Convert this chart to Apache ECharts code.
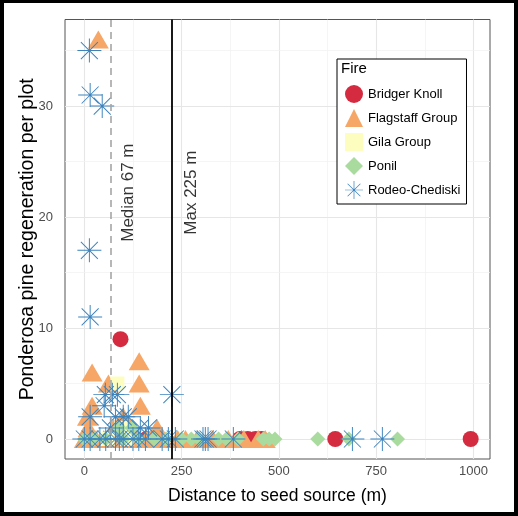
<!DOCTYPE html>
<html>
<head>
<meta charset="utf-8">
<script src="https://cdn.jsdelivr.net/npm/echarts@6/dist/echarts.min.js"></script>
<style>
html,body{margin:0;padding:0;background:#000;width:518px;height:516px;overflow:hidden;}
#c{position:absolute;left:4px;top:3px;width:510px;height:509px;background:#fff;}
</style>
</head>
<body>
<div id="c"></div>
<script>
// ---- data ----
const fireNames = ['Bridger Knoll','Flagstaff Group','Gila Group','Ponil','Rodeo-Chediski'];
const bridgerKnoll = [[93,9],[160,0],[400,0],[420,0],[440,0],[455,0],[645,0],[993,0]];
const flagstaffGroup = [[36,36],[20,6],[141,7],[141,5],[62,5],[144,3],[20,3],[8,2],[100,2],[187,1],[10,1],[75,1],[120,1],
  [0,0],[15,0],[30,0],[50,0],[70,0],[100,0],[130,0],[160,0],[200,0],[240,0],[260,0],[290,0],[330,0],[370,0],[410,0],[447,0],[465,0]];
const gilaGroup = [[85,5],[60,0],[110,0],[95,1]];
const ponil = [[0,0],[25,0],[55,0],[90,1],[100,0],[123,1],[140,0],[180,0],[210,0],[250,0],[275,0],[295,0],[345,0],[365,0],
  [395,0],[460,0],[475,0],[490,0],[600,0],[680,0],[805,0]];
const rodeoChediski = [[13,35],[15,31],[46,30],[13,17],[15,11],[225,4],[54,4],[72,4],[85,4],[51,3],[15,2],[80,2],[100,2],[113,2],
  [67,1],[144,1],[165,1],[0,0],[15,0],[40,0],[55,0],[80,0],[90,0],[100,0],[125,0],[140,0],[157,0],[200,0],[216,0],[234,0],
  [305,0],[311,0],[318,0],[383,0],[689,0],[766,0]];
const xTicks = [0,250,500,750,1000];
const xMinor = [125,375,625,875];
const yTicks = [0,10,20,30];
const yMinor = [5,15,25,35];
const medianDist = 67;
const maxDist = 225;
const annotations = [[113,22.2,'Median 67 m'],[275,22.2,'Max 225 m']];
const xRange = [-49.65, 1042.65];
const yRange = [-1.8, 37.8];

// ---- style ----
const colors = ['#d42b40','#f6a666','#fdfdbf','#a9db9f','#3b83bd'];
const asterisk = 'path://M0 48 L100 48 L100 52 L0 52 Z M48 0 L52 0 L52 100 L48 100 Z ' +
  'M16 13.2 L86.8 84 L84 86.8 L13.2 16 Z M13.2 84 L84 13.2 L86.8 16 L16 86.8 Z M45 45 L55 45 L55 55 L45 55 Z';
const symbols = ['circle','triangle','rect','diamond',asterisk];
const sizes = [16,[21,18],14,15,24];
const seriesData = [bridgerKnoll, flagstaffGroup, gilaGroup, ponil, rodeoChediski];
const font = "'Liberation Sans', Arial, sans-serif";

const chart = echarts.init(document.getElementById('c'));
const series = [];
series.push({
  name: 'grid', type: 'scatter', data: [], z: 1, silent: true,
  markLine: {
    silent: true, symbol: ['none','none'], label: {show: false}, animation: false, z: 1,
    data: [
      ...xTicks.map(v => ({xAxis: v, lineStyle: {color: '#e6e6e6', width: 1.1, type: 'solid'}})),
      ...xMinor.map(v => ({xAxis: v, lineStyle: {color: '#f0f0f0', width: 0.7, type: 'solid'}})),
      ...yTicks.map(v => ({yAxis: v, lineStyle: {color: '#e6e6e6', width: 1.1, type: 'solid'}})),
      ...yMinor.map(v => ({yAxis: v, lineStyle: {color: '#f0f0f0', width: 0.7, type: 'solid'}}))
    ]
  }
});
fireNames.forEach((n, i) => {
  series.push({
    name: n, type: 'scatter', data: seriesData[i], symbol: symbols[i], symbolSize: sizes[i],
    itemStyle: {color: colors[i], opacity: 1}, z: 3 + i, animation: false
  });
});
series.push({
  name: 'vlines', type: 'scatter', data: [], z: 10, silent: true,
  markLine: {
    silent: true, symbol: ['none','none'], label: {show: false}, animation: false, z: 10,
    data: [
      {xAxis: medianDist, lineStyle: {color: '#a6a6a6', width: 1.6, type: [7,5]}},
      {xAxis: maxDist, lineStyle: {color: '#000', width: 1.8, type: 'solid'}}
    ]
  }
});
series.push({
  name: 'annot', type: 'scatter', data: annotations, z: 11, silent: true,
  symbolSize: 0.1, itemStyle: {color: 'rgba(0,0,0,0)'}, animation: false,
  label: {show: true, position: 'inside', rotate: 90, formatter: p => p.value[2],
    color: '#000', fontSize: 17, fontFamily: font}
});

chart.setOption({
  animation: false,
  textStyle: {fontFamily: font},
  title: {text: 'Fire', left: 337, top: 58, padding: 0, z: 31,
    textStyle: {fontSize: 15, fontWeight: 'normal', color: '#000', fontFamily: font}},
  legend: {
    data: fireNames, orient: 'vertical', left: 333, top: 56, z: 30,
    padding: [26, 6, 5, 8], itemGap: 6, itemWidth: 18, itemHeight: 18,
    borderColor: '#000', borderWidth: 1, backgroundColor: '#fff',
    textStyle: {fontSize: 13, color: '#000', fontFamily: font}, selectedMode: false
  },
  grid: {left: 61, right: 24, top: 16.5, bottom: 53, show: true, borderColor: '#555', borderWidth: 1,
    backgroundColor: '#fff', containLabel: false, outerBoundsMode: 'none'},
  xAxis: {
    type: 'value', min: xRange[0], max: xRange[1],
    name: 'Distance to seed source (m)', nameLocation: 'middle', nameGap: 28,
    nameTextStyle: {fontSize: 17.5, color: '#000', fontFamily: font},
    axisLine: {show: false}, splitLine: {show: false},
    axisTick: {show: true, length: 4, lineStyle: {color: '#444'}, customValues: xTicks},
    axisLabel: {fontSize: 13, color: '#4d4d4d', margin: 6, customValues: xTicks, fontFamily: font,
      formatter: v => String(v)}
  },
  yAxis: {
    type: 'value', min: yRange[0], max: yRange[1],
    name: 'Ponderosa pine regeneration per plot', nameLocation: 'middle', nameGap: 27,
    nameMoveOverlap: false,
    nameTextStyle: {fontSize: 19.5, color: '#000', fontFamily: font},
    axisLine: {show: false}, splitLine: {show: false},
    axisTick: {show: true, length: 4, lineStyle: {color: '#444'}, customValues: yTicks},
    axisLabel: {fontSize: 13, color: '#4d4d4d', margin: 12, customValues: yTicks, fontFamily: font,
      formatter: v => String(v)}
  },
  series: series
});
</script>
</body>
</html>
